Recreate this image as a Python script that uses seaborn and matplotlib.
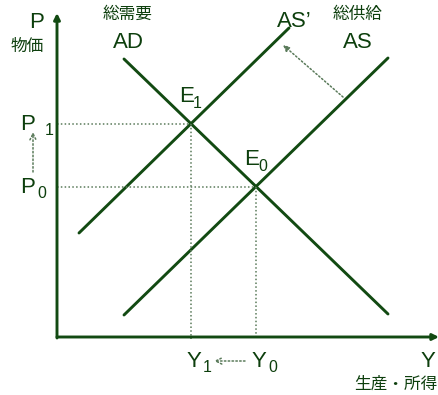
import numpy as np
import pandas as pd
import seaborn as sns
import matplotlib.pyplot as plt

sns.set_style('white')
plt.rcParams['font.family'] = ['Liberation Sans', 'Noto Sans CJK JP', 'DejaVu Sans']

# curve end points (output Y, price P)
curves = ['AD', 'AS', "AS'"]
y_start = [67, 67, 22]
y_end = [331, 331, 232]
p_start = [278, 22, 104]
p_end = [23, 279, 309]

# equilibria: E0 (AD x AS), E1 (AD x AS')
eq_names = ['0', '1']
eq_y = [199, 134]
eq_p = [150, 213]

line_col = '#124a12'
text_col = '#0d3f0d'
dot_col = '#5a7a5a'

df = pd.DataFrame({
    'curve': np.repeat(curves, 2),
    'Y': np.ravel(list(zip(y_start, y_end))),
    'P': np.ravel(list(zip(p_start, p_end))),
})

fig = plt.figure(figsize=(4.39, 3.95), dpi=100)
ax = fig.add_axes([0, 0, 1, 1])
ax.set_xlim(-57, 382)
ax.set_ylim(-58, 337)
ax.axis('off')

sns.lineplot(data=df, x='Y', y='P', units='curve', estimator=None, sort=False,
             color=line_col, lw=2.1, ax=ax, legend=False)

# axes with arrows
ax.annotate('', xy=(382, 0), xytext=(0, 0),
            arrowprops=dict(arrowstyle='-|>', color=line_col, lw=2.1,
                            mutation_scale=9, shrinkA=0, shrinkB=0))
ax.annotate('', xy=(0, 324), xytext=(0, -1),
            arrowprops=dict(arrowstyle='-|>', color=line_col, lw=2.1,
                            mutation_scale=9, shrinkA=0, shrinkB=0))

# dotted guides
for yv, pv in zip(eq_y, eq_p):
    ax.plot([0, yv], [pv, pv], ls=(0, (1, 1.5)), color=dot_col, lw=1.1)
    ax.plot([yv, yv], [pv, -2], ls=(0, (1, 1.5)), color=dot_col, lw=1.1)

# shift arrows
dot_arrow = dict(arrowstyle='->', color=dot_col, lw=1.1, ls=(0, (1, 1.5)),
                 shrinkA=0, shrinkB=0, mutation_scale=11)
ax.annotate('', xy=(226, 292), xytext=(286, 240),
            arrowprops=dict(dot_arrow, arrowstyle='-|>', mutation_scale=9))
ax.annotate('', xy=(-24, 205), xytext=(-24, 165), arrowprops=dot_arrow)
ax.annotate('', xy=(157, -24), xytext=(188, -24), arrowprops=dot_arrow)

big = dict(fontsize=16, color=text_col)
sub = dict(fontsize=11.5, color=text_col)
jp = dict(fontsize=12, color=text_col, ha='center', va='center')

# labels
ax.text(-20, 309, 'P', ha='center', va='baseline', **big)
ax.text(-30, 291, '物価', **jp)
ax.text(71, 323, '総需要', **jp)
ax.text(71, 289, 'AD', ha='center', va='baseline', **big)
ax.text(237, 310, 'AS\u2019', ha='center', va='baseline', **big)
ax.text(301, 323, '総供給', **jp)
ax.text(301, 289, 'AS', ha='center', va='baseline', **big)
ax.text(371, -30, 'Y', ha='center', va='baseline', **big)
ax.text(339, -47, '生産・所得', **jp)

# equilibrium labels
for name, yv, pv in zip(eq_names, eq_y, eq_p):
    ax.text(yv - 12, pv + 22, 'E', ha='left', va='baseline', **big)
    ax.text(yv + 2, pv + 16, name, ha='left', va='baseline', **sub)
    ax.text(-37, pv - 6, 'P', ha='left', va='baseline', **big)
    ax.text(-20 if name == '0' else -12, pv - 11, name, ha='left', va='baseline', **sub)
    ax.text(yv - 4, -30, 'Y', ha='left', va='baseline', **big)
    ax.text(yv + 12, -35, name, ha='left', va='baseline', **sub)

fig.savefig('out.png', dpi=100)
